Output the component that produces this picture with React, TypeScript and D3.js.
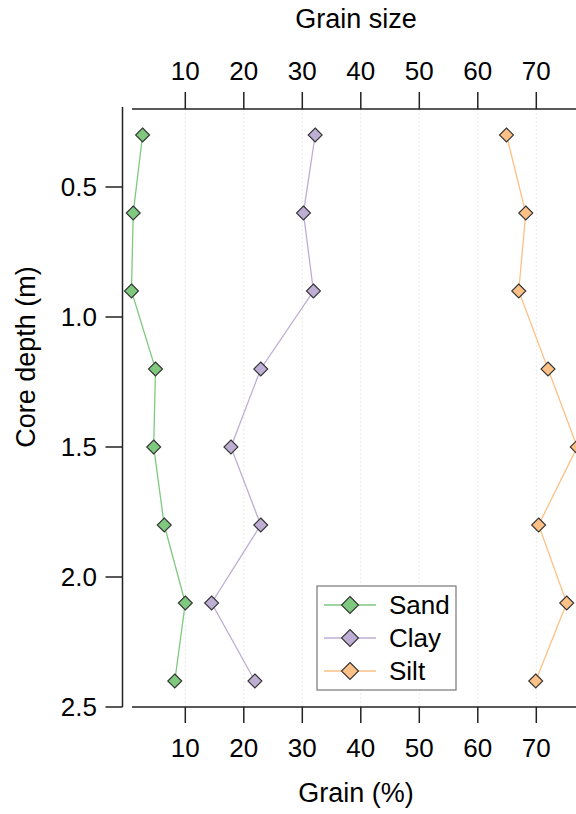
import React from 'react';
import * as d3 from 'd3';

const depths = [0.3, 0.6, 0.9, 1.2, 1.5, 1.8, 2.1, 2.4];
const sand = [2.7, 1.1, 0.8, 4.9, 4.6, 6.4, 10.0, 8.2];
const clay = [32.2, 30.2, 31.9, 22.9, 17.8, 22.9, 14.5, 21.9];
const silt = [64.9, 68.2, 67.0, 72.0, 77.0, 70.4, 75.2, 69.9];
const seriesNames = ['Sand', 'Clay', 'Silt'];
const seriesColors = ['#7fc97f', '#beaed4', '#fdc086'];
const xTicks = [10, 20, 30, 40, 50, 60, 70];
const yTicks = [0.5, 1.0, 1.5, 2.0, 2.5];

const W = 576;
const H = 814;
const font = 'Liberation Sans, Arial, sans-serif';

export default function App() {
  const x = d3.scaleLinear().domain([0, 10]).range([126.8, 185.3]);
  const y = d3.scaleLinear().domain([0.2, 2.5]).range([109, 707]);
  const top = 109;
  const bottom = 707;
  const spineX = 122.5;

  const series = [sand, clay, silt];
  const line = d3.line<[number, number]>()
    .x(d => x(d[0]))
    .y(d => y(d[1]));

  const diamond = (cx: number, cy: number, r = 7) =>
    `M${cx},${cy - r}L${cx + r},${cy}L${cx},${cy + r}L${cx - r},${cy}Z`;

  return (
    <svg width={W} height={H} style={{ position: 'absolute', left: 0, top: 0 }} fontFamily={font}>
      <rect width={W} height={H} fill="#fff" />

      {/* grid */}
      {xTicks.map(t => (
        <line key={'g' + t} x1={x(t)} x2={x(t)} y1={top} y2={bottom}
          stroke="#e4e4e4" strokeWidth={0.8} strokeDasharray="2,2" />
      ))}

      {/* top axis */}
      <line x1={132} x2={W} y1={top} y2={top} stroke="#222" strokeWidth={1.5} />
      {xTicks.map(t => (
        <g key={'t' + t}>
          <line x1={x(t)} x2={x(t)} y1={top} y2={top - 17} stroke="#222" strokeWidth={1.5} />
          <text x={x(t)} y={80} fontSize={26} textAnchor="middle">{t}</text>
        </g>
      ))}
      <text x={356} y={28} fontSize={27} textAnchor="middle">Grain size</text>

      {/* bottom axis */}
      <line x1={132} x2={W} y1={bottom} y2={bottom} stroke="#222" strokeWidth={1.5} />
      {xTicks.map(t => (
        <g key={'b' + t}>
          <line x1={x(t)} x2={x(t)} y1={bottom} y2={bottom + 16} stroke="#222" strokeWidth={1.5} />
          <text x={x(t)} y={757} fontSize={26} textAnchor="middle">{t}</text>
        </g>
      ))}
      <text x={356} y={802} fontSize={27} textAnchor="middle">Grain (%)</text>

      {/* left axis */}
      <line x1={spineX} x2={spineX} y1={top - 2} y2={bottom} stroke="#222" strokeWidth={1.5} />
      {yTicks.map(t => (
        <g key={'y' + t}>
          <line x1={spineX} x2={spineX - 17} y1={y(t)} y2={y(t)} stroke="#222" strokeWidth={1.5} />
          <text x={97} y={y(t)} dy="0.36em" fontSize={26} textAnchor="end">{t.toFixed(1)}</text>
        </g>
      ))}
      <text transform={`translate(35,${357}) rotate(-90)`} fontSize={27} textAnchor="middle">Core depth (m)</text>

      {/* series */}
      {series.map((vals, i) => {
        const pts = vals.map((v, j) => [v, depths[j]] as [number, number]);
        return (
          <g key={seriesNames[i]}>
            <path d={line(pts) || ''} fill="none" stroke={seriesColors[i]} strokeWidth={1.3} />
            {pts.map((p, j) => (
              <path key={j} d={diamond(x(p[0]), y(p[1]))} fill={seriesColors[i]} stroke="#333" strokeWidth={1.1} />
            ))}
          </g>
        );
      })}

      {/* legend */}
      <rect x={317} y={586} width={139} height={104} fill="#fff" stroke="#777" strokeWidth={1.2} />
      {seriesNames.map((n, i) => {
        const ly = 605 + i * 33;
        return (
          <g key={'l' + n}>
            <line x1={324} x2={376} y1={ly} y2={ly} stroke={seriesColors[i]} strokeWidth={1.3} />
            <path d={diamond(350, ly, 8.5)} fill={seriesColors[i]} stroke="#333" strokeWidth={1.1} />
            <text x={389} y={ly} dy="0.36em" fontSize={26}>{n}</text>
          </g>
        );
      })}
    </svg>
  );
}
